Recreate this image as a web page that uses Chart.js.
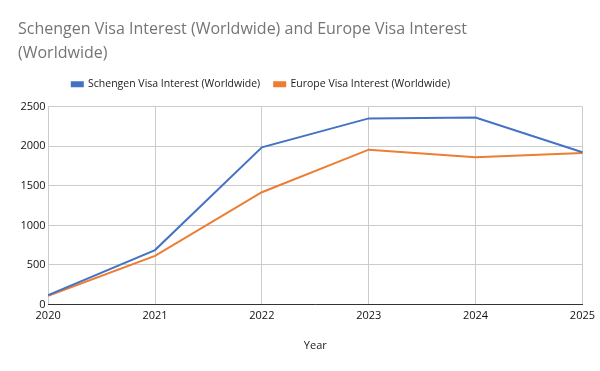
<!DOCTYPE html>
<html>
<head>
<meta charset="utf-8">
<script src="https://cdn.jsdelivr.net/npm/chart.js@4"></script>
<style>
  html, body { margin: 0; padding: 0; background: #fff; }
  #wrap { width: 600px; height: 371px; }
</style>
</head>
<body>
<div id="wrap"><canvas id="chart"></canvas></div>
<script>
var years = ['2020', '2021', '2022', '2023', '2024', '2025'];
var schengenInterest = [120, 688, 1985, 2350, 2362, 1922];
var europeInterest = [112, 615, 1418, 1955, 1860, 1912];
var yTicks = [0, 500, 1000, 1500, 2000, 2500];

// legend in the reference sits left of centre and has more room under it
var legendTweak = {
    id: 'legendTweak',
    beforeLayout: function (chart) {
        var lg = chart.legend;
        if (lg && !lg._tweaked) {
            var fit = lg.fit;
            lg.fit = function () {
                fit.call(this);
                this.height += 7;
            };
            lg._tweaked = true;
        }
    },
    afterLayout: function (chart) {
        chart.legend.left -= 42;
        chart.legend.right -= 42;
    }
};

var ctx = document.getElementById('chart').getContext('2d');
new Chart(ctx, {
    type: 'line',
    data: {
        labels: years,
        datasets: [{
            label: 'Schengen Visa Interest (Worldwide)',
            data: schengenInterest,
            borderColor: '#4472c4',
            backgroundColor: '#4472c4',
            borderWidth: 2,
            pointRadius: 0,
            tension: 0
        }, {
            label: 'Europe Visa Interest (Worldwide)',
            data: europeInterest,
            borderColor: '#ed7d31',
            backgroundColor: '#ed7d31',
            borderWidth: 2,
            pointRadius: 0,
            tension: 0
        }]
    },
    plugins: [legendTweak],
    options: {
        responsive: true,
        maintainAspectRatio: false,
        animation: false,
        layout: { padding: { left: 18, right: 12, top: 0, bottom: 15 } },
        plugins: {
            title: {
                display: true,
                text: ['Schengen Visa Interest (Worldwide) and Europe Visa Interest', '(Worldwide)'],
                align: 'start',
                color: '#757575',
                font: { family: 'Open Sans', size: 16, weight: 'normal', lineHeight: 1.5 },
                padding: { top: 17, bottom: 0 }
            },
            legend: {
                position: 'top',
                labels: {
                    boxWidth: 11,
                    boxHeight: 4,
                    color: '#222',
                    font: { family: 'Open Sans', size: 10.5 },
                    padding: 14
                }
            },
            tooltip: { enabled: false }
        },
        scales: {
            x: {
                offset: false,
                title: {
                    display: true,
                    text: 'Year',
                    color: '#222',
                    font: { family: 'Open Sans', size: 11 },
                    padding: { top: 11 }
                },
                grid: { color: '#cccccc', drawTicks: false },
                border: { color: '#333333', width: 1 },
                ticks: {
                    color: '#111',
                    font: { family: 'Open Sans', size: 11 },
                    maxRotation: 0,
                    padding: 5
                }
            },
            y: {
                min: 0,
                max: 2500,
                afterBuildTicks: function (axis) {
                    axis.ticks = yTicks.map(function (v) { return { value: v }; });
                },
                grid: { color: '#cccccc', drawTicks: false },
                border: { display: false },
                ticks: {
                    color: '#111',
                    font: { family: 'Open Sans', size: 11 },
                    padding: 2.5,
                    callback: function (value) { return String(value); }
                }
            }
        }
    }
});
</script>
</body>
</html>
